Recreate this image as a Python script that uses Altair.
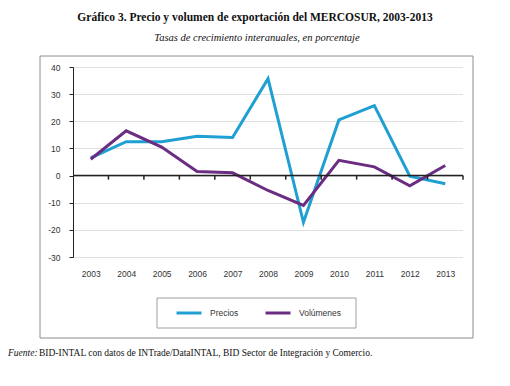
import altair as alt
import pandas as pd

years = list(range(2003, 2014))
precios = [6.5, 12.5, 12.5, 14.5, 14.0, 35.7, -17.2, 20.5, 25.8, -0.2, -3.0]
volumenes = [6.0, 16.5, 10.5, 1.5, 1.0, -5.5, -11.0, 5.6, 3.2, -3.8, 3.7]
series = ["Precios", "Volúmenes"]
colors = ["#1f9fd2", "#6a2d82"]
y_ticks = [-30, -20, -10, 0, 10, 20, 30, 40]

title_text = "Gráfico 3. Precio y volumen de exportación del MERCOSUR, 2003-2013"
subtitle_text = "Tasas de crecimiento interanuales, en porcentaje"
fuente_label = "Fuente:"
fuente_text = "BID-INTAL con datos de INTrade/DataINTAL, BID Sector de Integración y Comercio."

rows = []
for i, yr in enumerate(years):
    rows.append({"year": yr, "value": precios[i], "serie": series[0]})
    rows.append({"year": yr, "value": volumenes[i], "serie": series[1]})
df = pd.DataFrame(rows)
bounds = pd.DataFrame({"b": [yr + 0.5 for yr in years]})
one = pd.DataFrame({"a": [0]})

W, H = 390, 190
xscale = alt.Scale(domain=[years[0] - 0.5, years[-1] + 0.5], nice=False, zero=False)
yscale = alt.Scale(domain=[-30, 40], nice=False)

xaxis = alt.Axis(values=years, format="d", domain=False, ticks=False, grid=False,
                 labelOverlap=False, labelPadding=12, labelFontSize=8.5,
                 labelColor="#333333", labelFont="Liberation Sans", title=None)
yaxis = alt.Axis(values=y_ticks, labelExpr="'' + datum.value", domainColor="#222222",
                 tickColor="#222222", labelOverlap=False, tickSize=4, labelPadding=9,
                 labelFontSize=8.5, labelColor="#333333", labelFont="Liberation Sans", grid=True,
                 gridColor="#c0c0c0", gridDash=[1, 1], gridWidth=1, title=None)

box = alt.Chart(one).mark_rect(fill=None, stroke="#8c8c8c", strokeWidth=1).encode(
    x=alt.value(-33), x2=alt.value(400), y=alt.value(-11), y2=alt.value(271)
)
legbox = alt.Chart(one).mark_rect(fill=None, stroke="#a0a0a0", strokeWidth=1).encode(
    x=alt.value(84), x2=alt.value(283), y=alt.value(231), y2=alt.value(261)
)

lines = alt.Chart(df).mark_line(strokeWidth=3).encode(
    x=alt.X("year:Q", scale=xscale, axis=xaxis),
    y=alt.Y("value:Q", scale=yscale, axis=yaxis),
    color=alt.Color("serie:N", scale=alt.Scale(domain=series, range=colors),
                    legend=alt.Legend(orient="none", legendX=102, legendY=232, direction="horizontal",
                                      title=None, symbolType="stroke", symbolSize=625,
                                      symbolStrokeWidth=3, labelFontSize=8.5, labelColor="#333333",
                                      labelFont="Liberation Sans", labelOffset=7, columnPadding=20,
                                      padding=0)),
)

zero = alt.Chart(one).mark_rule(color="#222222", strokeWidth=1.5).encode(
    y=alt.Y(datum=0, scale=yscale, axis=yaxis))
ticks = alt.Chart(bounds).mark_rule(color="#222222", strokeWidth=1.5).encode(
    x=alt.X("b:Q", scale=xscale, axis=xaxis),
    y=alt.Y(datum=0, scale=yscale, axis=yaxis), y2=alt.Y2(datum=-1.5)
)

title = alt.Chart(one).mark_text(font="Liberation Serif", fontWeight="bold", fontSize=11.5,
                                 color="#111111", align="center", baseline="middle").encode(
    x=alt.value(182), y=alt.value(-49), text=alt.value(title_text))
subtitle = alt.Chart(one).mark_text(font="Liberation Serif", fontStyle="italic", fontSize=10.5,
                                    color="#111111", align="center", baseline="middle").encode(
    x=alt.value(184), y=alt.value(-29), text=alt.value(subtitle_text))
f1 = alt.Chart(one).mark_text(font="Liberation Serif", fontStyle="italic", fontSize=9.5,
                              color="#111111", align="left", baseline="middle").encode(
    x=alt.value(-65), y=alt.value(286), text=alt.value(fuente_label))
f2 = alt.Chart(one).mark_text(font="Liberation Serif", fontSize=9.5,
                              color="#111111", align="left", baseline="middle").encode(
    x=alt.value(-34), y=alt.value(286), text=alt.value(fuente_text))

chart = alt.layer(lines, box, legbox, zero, ticks, title, subtitle, f1, f2).properties(
    width=W, height=H,
    background="white",
    autosize=alt.AutoSizeParams(type="none"),
    padding={"left": 65, "top": 59, "right": 39, "bottom": 121},
).configure_view(stroke=None)

chart.save("out.html", embed_options={"renderer": "svg", "actions": False})
